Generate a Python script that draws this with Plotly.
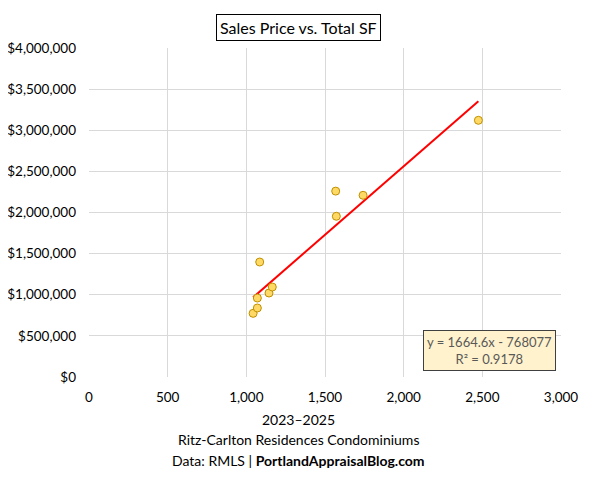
import plotly.graph_objects as go

# Total SF vs sales price
total_sf = [1043, 1070, 1070, 1085, 1144, 1165, 1568, 1572, 1742, 2475]
sale_price = [774000, 839000, 960000, 1398000, 1021000, 1094000, 2260000, 1954000, 2209000, 3121000]

# linear trendline as stated on the chart
slope = 1664.6
intercept = -768077
r_squared = 0.9178

x_ticks = [0, 500, 1000, 1500, 2000, 2500, 3000]
y_ticks = [0, 500000, 1000000, 1500000, 2000000, 2500000, 3000000, 3500000, 4000000]

footer_lines = [
    "2023–2025",
    "Ritz-Carlton Residences Condominiums",
    "Data: RMLS | <b>PortlandAppraisalBlog.com</b>",
]

FONT = "Lato"

fig = go.Figure()

trend_x = [min(total_sf), max(total_sf)]
trend_y = [slope * x + intercept for x in trend_x]
fig.add_scatter(
    x=trend_x,
    y=trend_y,
    mode="lines",
    line=dict(color="#FF0000", width=2),
    hoverinfo="skip",
)

fig.add_scatter(
    x=total_sf,
    y=sale_price,
    mode="markers",
    marker=dict(size=8, color="#FFD966", line=dict(color="#BF9000", width=1)),
)

fig.update_xaxes(
    range=[0, 3000],
    tickvals=x_ticks,
    tickformat=",d",
    showgrid=True,
    gridcolor="#D9D9D9",
    zeroline=False,
    showline=False,
    ticks="",
    automargin=False,
    ticklabelstandoff=10,
    tickfont=dict(family=FONT, size=13.5, color="#000000"),
)
fig.update_yaxes(
    range=[0, 4000000],
    tickvals=y_ticks,
    ticktext=["$0"] + [f"${v:,}" for v in y_ticks[1:]],
    showgrid=True,
    gridcolor="#D9D9D9",
    zeroline=False,
    showline=False,
    ticks="",
    automargin=False,
    ticklabelstandoff=12,
    tickfont=dict(family=FONT, size=13.5, color="#000000"),
)

fig.add_annotation(
    text="Sales Price vs. Total SF",
    xref="paper", yref="paper",
    x=0.444, y=1.0, yshift=34,
    xanchor="center", yanchor="top",
    showarrow=False,
    font=dict(family=FONT, size=16, color="#000000"),
    bordercolor="#000000",
    borderwidth=1,
    borderpad=3,
    bgcolor="#FFFFFF",
)

fig.add_annotation(
    text=f"y = {slope}x - {abs(intercept)}<br>R² = {r_squared}",
    xref="paper", yref="paper",
    x=0.989, y=0.018,
    xanchor="right", yanchor="bottom",
    showarrow=False,
    align="center",
    font=dict(family=FONT, size=13, color="#595959"),
    bgcolor="#FFF2CC",
    bordercolor="#404040",
    borderwidth=1,
    borderpad=3,
)

for i, line in enumerate(footer_lines):
    fig.add_annotation(
        text=line,
        xref="paper", yref="paper",
        x=0.444, y=0, yshift=-42 - 20.5 * i,
        xanchor="center", yanchor="middle",
        showarrow=False,
        font=dict(family=FONT, size=14, color="#000000"),
    )

# page body has an 8px margin, so the figure is sized and offset for it
fig.update_layout(
    width=584,
    height=472,
    showlegend=False,
    plot_bgcolor="#FFFFFF",
    paper_bgcolor="#FFFFFF",
    margin=dict(l=81, r=31, t=40, b=103),
)

fig.write_html("out.html")
